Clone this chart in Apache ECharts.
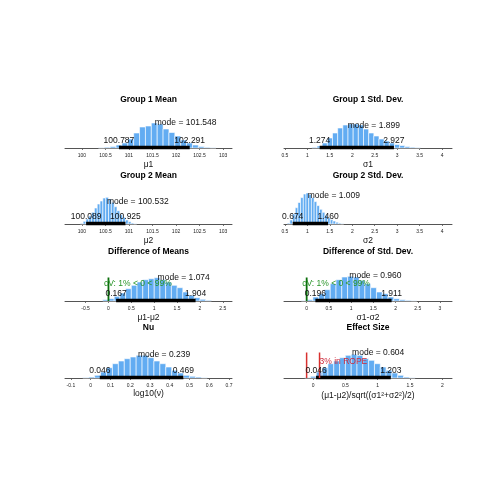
<!DOCTYPE html>
<html><head><meta charset="utf-8">
<script src="https://cdn.jsdelivr.net/npm/echarts@6/dist/echarts.min.js"></script>
<style>html,body{margin:0;padding:0;background:#fff}#c{width:500px;height:500px}</style>
</head><body><div id="c"></div><script>
// ---------------- data ----------------
const mu1Edges = [100.35,100.475,100.6,100.725,100.85,100.975,101.1,101.225,101.35,101.475,101.6,101.725,101.85,101.975,102.1,102.225,102.35,102.475,102.6,102.725,102.85];
const mu1Counts = [0.3,0.8,1.5,3,5,9,15,21,22,25,24,19,15.5,12,8,5,3,1.5,0.7,0.3];
const sigma1Edges = [1.1,1.215,1.33,1.445,1.56,1.675,1.79,1.905,2.02,2.135,2.25,2.365,2.48,2.595,2.71,2.825,2.94,3.055,3.17,3.285,3.4,3.515];
const sigma1Counts = [0.7,2,5,10,15,20,23,24,24,23,19,15,12,9,7,5,3.5,2.5,1.5,0.8,0.4];
const mu2Edges = [99.965,100.025,100.085,100.145,100.205,100.265,100.325,100.385,100.445,100.505,100.565,100.625,100.685,100.745,100.805,100.865,100.925,100.985,101.045,101.105,101.165];
const mu2Counts = [0.7,2.7,5,8,11.7,16,20,23,26,26.7,25,21.7,17.3,13.3,9.3,6.7,4,2.3,1,0.3];
const sigma2Edges = [0.55,0.61,0.67,0.73,0.79,0.85,0.91,0.97,1.03,1.09,1.15,1.21,1.27,1.33,1.39,1.45,1.51,1.57,1.63,1.69,1.75,1.81];
const sigma2Counts = [0.9,4,10,16.3,21.5,26.4,30,31,29.5,26.4,22.4,18.4,14.7,11.7,8.6,6.2,4.3,3,1.8,0.9,0.3];
const diffMuEdges = [-0.125,0,0.125,0.25,0.375,0.5,0.625,0.75,0.875,1,1.125,1.25,1.375,1.5,1.625,1.75,1.875,2,2.125,2.25];
const diffMuCounts = [1.3,2.3,4.7,8,12.3,15.7,19,21.3,22.3,23.3,21.3,19,15.7,13.3,9,5.7,3.3,1.7,0.7];
const diffSigmaEdges = [-0.12,0.01,0.14,0.27,0.40,0.53,0.66,0.79,0.92,1.05,1.18,1.31,1.44,1.57,1.70,1.83,1.96,2.09,2.22,2.35,2.48];
const diffSigmaCounts = [0.4,1.3,4,7.3,11.3,17.3,21.3,24,24.7,24,20.7,17.3,13.3,9,7.3,4,2.3,1.3,0.7,0.3];
const nuEdges = [-0.04,-0.01,0.02,0.05,0.08,0.11,0.14,0.17,0.2,0.23,0.26,0.29,0.32,0.35,0.38,0.41,0.44,0.47,0.5,0.53,0.56,0.59];
const nuCounts = [0.4,1,2.7,6,10.3,14.3,17,19.3,21,22.7,22.7,20.3,17,14.3,11,7.7,5,2.7,1.7,1,0.3];
const effEdges = [-0.13,-0.04,0.05,0.14,0.23,0.32,0.41,0.50,0.59,0.68,0.77,0.86,0.95,1.04,1.13,1.22,1.31,1.40,1.49,1.58];
const effCounts = [0.5,1.7,6,10.3,14.3,17,20.3,22.7,23.7,22.7,19.3,17.7,14.3,11,7.7,5,2.7,1,0.3];

const panelTitles = ['Group 1 Mean','Group 1 Std. Dev.','Group 2 Mean','Group 2 Std. Dev.','Difference of Means','Difference of Std. Dev.','Nu','Effect Size'];
const axisNames = ['\u03bc1','\u03c31','\u03bc2','\u03c32','\u03bc1-\u03bc2','\u03c31-\u03c32','log10(\u03bd)','(\u03bc1-\u03bc2)/sqrt((\u03c31\u00b2+\u03c32\u00b2)/2)'];
const modes = [101.548,1.899,100.532,1.009,1.074,0.960,0.239,0.604];
const hdiLow = [100.787,1.274,100.089,0.674,0.167,0.196,0.046,0.046];
const hdiHigh = [102.291,2.927,100.925,1.460,1.904,1.911,0.469,1.203];

const meanTicks = [100,100.5,101,101.5,102,102.5,103];
const sdTicks = [0.5,1,1.5,2,2.5,3,3.5,4];
const diffMeanTicks = [-0.5,0,0.5,1,1.5,2,2.5];
const diffSdTicks = [0,0.5,1,1.5,2,2.5,3];
const nuTicks = [-0.1,0,0.1,0.2,0.3,0.4,0.5,0.6,0.7];
const effTicks = [0,0.5,1,1.5,2];

const compVal = 0;
const compText = 'cV: 1% < 0 < 99%';
const ropeLimits = [-0.1, 0.1];
const ropeText = '3% in ROPE';

// ---------------- layout / style ----------------
const FONT = "'Liberation Sans', Arial, Helvetica, sans-serif";
const BAR = '#62acf2';
const edgesList = [mu1Edges,sigma1Edges,mu2Edges,sigma2Edges,diffMuEdges,diffSigmaEdges,nuEdges,effEdges];
const countsList = [mu1Counts,sigma1Counts,mu2Counts,sigma2Counts,diffMuCounts,diffSigmaCounts,nuCounts,effCounts];
const ticksList = [meanTicks,sdTicks,meanTicks,sdTicks,diffMeanTicks,diffSdTicks,nuTicks,effTicks];
const ranges = [[99.64,103.19],[0.48,4.22],[99.64,103.19],[0.48,4.22],[-0.95,2.7],[-0.51,3.27],[-0.13,0.715],[-0.45,2.15]];
const modeOffset = [25,22,22.5,28,23,25,23,25];
const nameGaps = [12,12,12,12,12,12,11,13];
const colLeft = [65,284], colWidth = [167,168];
const rowAxisY = [148,224,301,378];
const rowTitleY = [100,175.5,252,328];
const GH = 45;

const grids = [], xAxes = [], yAxes = [], series = [], graphics = [];
for (let i = 0; i < 8; i++) {
  const row = Math.floor(i/2), col = i % 2;
  grids.push({left: colLeft[col], width: colWidth[col], top: rowAxisY[row]-GH, height: GH});
  xAxes.push({
    type:'value', gridIndex:i, min:ranges[i][0], max:ranges[i][1],
    name: axisNames[i], nameLocation:'middle', nameGap: nameGaps[i],
    nameTextStyle:{fontSize:8.5, color:'#111', fontFamily:FONT},
    axisLine:{show:true, onZero:false, lineStyle:{color:'#555', width:1}},
    axisTick:{show:true, length:2, customValues: ticksList[i], lineStyle:{color:'#555', width:0.8}},
    axisLabel:{customValues: ticksList[i], fontSize:5, margin:5, color:'#222', fontFamily:FONT, formatter: v => String(v)},
    splitLine:{show:false}
  });
  yAxes.push({type:'value', gridIndex:i, min:0, max:GH, show:false});
  const data = countsList[i].map((c,k) => [edgesList[i][k], edgesList[i][k+1], c]);
  series.push({
    type:'custom', xAxisIndex:i, yAxisIndex:i, data: data, encode:{x:[0,1], y:2},
    z:2, silent:true,
    renderItem: function(params, api){
      const p0 = api.coord([api.value(0), 0]);
      const p1 = api.coord([api.value(1), api.value(2)]);
      return {type:'rect', shape:{x:p0[0], y:p1[1], width:p1[0]-p0[0], height:p0[1]-p1[1]},
              style:{fill:BAR, stroke:'#fff', lineWidth:0.6}};
    }
  });
  series.push({
    type:'custom', xAxisIndex:i, yAxisIndex:i, data:[[modes[i], hdiLow[i], hdiHigh[i]]], encode:{x:[0,1,2]},
    z:5, silent:true,
    renderItem: function(params, api){
      const m = api.coord([api.value(0), 0]);
      const lo = api.coord([api.value(1), 0]);
      const hi = api.coord([api.value(2), 0]);
      const y0 = lo[1];
      const ch = [];
      ch.push({type:'line', shape:{x1:lo[0], y1:y0-0.5, x2:hi[0], y2:y0-0.5}, style:{stroke:'#000', lineWidth:3.5}});
      if (i === 4 || i === 5) {
        const c = api.coord([compVal, 0]);
        ch.push({type:'line', shape:{x1:c[0], y1:y0, x2:c[0], y2:y0-23.5}, style:{stroke:'#0b6e0b', lineWidth:1.8}});
        ch.push({type:'text', x:c[0]-4.5, y:y0-17.5, style:{text:compText, fill:'#2a952a', font:'8.5px '+FONT, align:'left', verticalAlign:'middle'}});
      }
      if (i === 7) {
        const r0 = api.coord([ropeLimits[0], 0]);
        const r1 = api.coord([ropeLimits[1], 0]);
        ch.push({type:'line', shape:{x1:r0[0], y1:y0, x2:r0[0], y2:y0-25.5}, style:{stroke:'#d8312f', lineWidth:1.5}});
        ch.push({type:'line', shape:{x1:r1[0], y1:y0, x2:r1[0], y2:y0-25.5}, style:{stroke:'#d8312f', lineWidth:1.5}});
        ch.push({type:'text', x:r1[0], y:y0-16, style:{text:ropeText, fill:'#cc2a3c', font:'8.5px '+FONT, align:'left', verticalAlign:'middle'}});
      }
      ch.push({type:'text', x:m[0], y:y0-modeOffset[i], style:{text:'mode = '+modes[i].toFixed(3), fill:'#111', font:'8.5px '+FONT, align:'left', verticalAlign:'middle'}});
      ch.push({type:'text', x:lo[0], y:y0-7, style:{text:hdiLow[i].toFixed(3), fill:'#111', font:'8.5px '+FONT, align:'center', verticalAlign:'middle'}});
      ch.push({type:'text', x:hi[0], y:y0-7, style:{text:hdiHigh[i].toFixed(3), fill:'#111', font:'8.5px '+FONT, align:'center', verticalAlign:'middle'}});
      return {type:'group', children:ch};
    }
  });
  graphics.push({type:'text', x: colLeft[col] + colWidth[col]/2, y: rowTitleY[row],
    style:{text: panelTitles[i], fill:'#000', font:'bold 8.5px '+FONT, align:'center', verticalAlign:'middle'}});
}

const chart = echarts.init(document.getElementById('c'), null, {renderer:'canvas'});
chart.setOption({
  backgroundColor:'#fff', animation:false,
  grid: grids, xAxis: xAxes, yAxis: yAxes, series: series, graphic: graphics
});
</script></body></html>
